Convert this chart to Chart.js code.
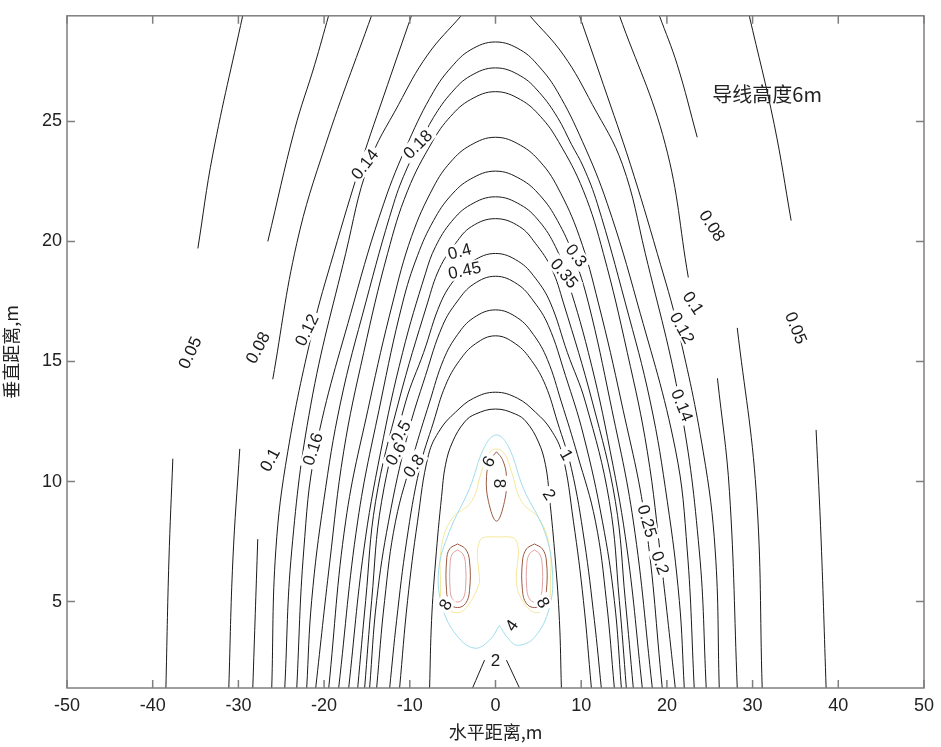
<!DOCTYPE html>
<html>
<head>
<meta charset="utf-8">
<script src="https://cdn.jsdelivr.net/npm/chart.js@4.4.0/dist/chart.umd.min.js"></script>
<style>
  html, body { margin: 0; padding: 0; background: #fff; }
</style>
</head>
<body>
<canvas id="contour" width="941" height="747"></canvas>
<script>
// axis ticks
const xTicks = [-50, -40, -30, -20, -10, 0, 10, 20, 30, 40, 50];
const yTicks = [5, 10, 15, 20, 25];

// contour lines (null = break in the line)
const c005X = [-38.46, -38.11, -37.65, null, -34.73, -32.98, -29.49, null, 29.60, 32.52, 34.50, null, 37.41, 38.00, 38.58];
const c005Y = [1.40, 6.69, 10.95, null, 19.71, 23.64, 29.42, null, 29.42, 24.88, 20.87, null, 12.15, 7.52, 1.40];
const c008X = [-31.12, -30.65, -29.84, null, -26.57, -23.43, -21.10, -19.46, null, 19.11, 21.21, 23.54, null, 28.21, 30.42, 31.12];
const c008Y = [1.40, 6.69, 11.36, null, 20.00, 24.67, 27.36, 29.42, null, 29.42, 27.36, 24.34, null, 16.40, 9.59, 1.40];
const c010X = [-28.32, -27.74, null, -25.99, -23.19, -19.81, -14.45, null, 14.45, 19.81, 22.50, null, 25.90, 27.30, 28.21];
const c010Y = [1.40, 7.60, null, 14.26, 19.92, 24.05, 29.42, null, 29.42, 24.05, 18.50, null, 14.30, 9.59, 1.40];
const c012X = [-26.11, -25.64, -24.24, -21.33, -18.88, -15.73, -12.59, -9.79, null, 9.79, 12.59, 15.73, 18.88, 21.33, 24.24, 25.64, 26.11];
const c012Y = [1.40, 7.11, 11.24, 16.32, 19.50, 23.22, 26.53, 29.42, null, 29.42, 26.53, 23.22, 19.50, 16.32, 11.24, 7.11, 1.40];
const c014X = [-24.59, -23.78, -21.56, -17.48, -14.80, -11.31, -7.93, -3.96, null, 3.96, 7.93, 11.31, 14.80, 17.48, 21.56, 23.78, 24.59];
const c014Y = [1.40, 7.11, 13.18, 19.50, 23.22, 25.70, 27.77, 29.42, null, 29.42, 27.77, 25.70, 23.22, 19.50, 13.18, 7.11, 1.40];
const c016X = [-23.19, -22.38, -20.98, -16.55, -13.05, -10.14, -7.23, -5.13, -2.91, 0, 2.91, 5.13, 7.23, 10.14, 13.05, 16.55, 20.98, 22.38, 23.19];
const c016Y = [1.40, 7.11, 11.36, 17.44, 21.57, 24.17, 26.24, 27.27, 27.98, 28.31, 27.98, 27.27, 26.24, 24.17, 21.57, 17.44, 11.36, 7.11, 1.40];
const c018X = [-22.03, -21.45, -20.05, -18.07, -15.15, -11.89, -10.26, -8.86, -7.23, -5.13, -2.91, 0, 2.91, 5.13, 7.23, 8.86, 10.26, 11.89, 15.15, 18.07, 20.05, 21.45, 22.03];
const c018Y = [1.40, 5.04, 9.17, 13.31, 17.44, 21.57, 23.10, 24.05, 25.17, 26.20, 26.90, 27.23, 26.90, 26.20, 25.17, 24.05, 23.10, 21.57, 17.44, 13.31, 9.17, 5.04, 1.40];
const c020X = [-20.98, -19.35, -17.72, -15.38, -12.59, -10.26, -7.34, -5.24, -2.91, 0, 2.91, 5.24, 7.34, 10.26, 12.59, 15.38, 17.72, 19.35, 20.98];
const c020Y = [1.40, 6.61, 11.24, 15.37, 19.50, 22.11, 24.17, 25.21, 25.91, 26.24, 25.91, 25.21, 24.17, 22.11, 19.50, 15.37, 11.24, 6.61, 1.40];
const c025X = [-19.46, -17.48, -14.69, -12.00, -9.79, -7.23, -5.24, -2.91, 0, 2.91, 5.24, 7.23, 9.79, 12.00, 14.69, 17.48, 19.46];
const c025Y = [1.40, 8.35, 13.31, 17.44, 20.21, 22.27, 23.31, 24.01, 24.34, 24.01, 23.31, 22.27, 20.21, 17.44, 13.31, 8.35, 1.40];
const c030X = [-18.30, -16.08, -13.40, -10.84, -9.09, -7.23, -5.24, -2.91, 0, 2.91, 5.24, 7.23, 9.09, 10.84, 13.40, 16.08, 18.30];
const c030Y = [1.40, 8.35, 13.31, 17.44, 19.42, 20.87, 21.90, 22.60, 22.93, 22.60, 21.90, 20.87, 19.42, 17.44, 13.31, 8.35, 1.40];
const c035X = [-17.13, -15.38, -13.40, -10.84, -8.16, -6.99, -5.13, -2.91, 0, 2.91, 5.13, 6.99, 8.16, 10.84, 13.40, 15.38, 17.13];
const c035Y = [1.40, 7.11, 11.24, 15.37, 18.68, 19.79, 20.83, 21.53, 21.86, 21.53, 20.83, 19.79, 18.68, 15.37, 11.24, 7.11, 1.40];
const c040X = [-16.08, -15.15, -13.99, -11.31, -7.93, -6.53, -4.66, -2.80, 0, 2.80, 4.66, 6.53, 7.93, 11.31, 13.99, 15.15, 16.08];
const c040Y = [1.40, 5.04, 9.17, 13.31, 17.44, 18.88, 19.92, 20.62, 20.95, 20.62, 19.92, 18.88, 17.44, 13.31, 9.17, 5.04, 1.40];
const c045X = [-15.27, -14.45, -13.29, -10.49, -8.39, -6.41, -4.66, -2.68, 0, 2.68, 4.66, 6.41, 8.39, 10.49, 13.29, 14.45, 15.27];
const c045Y = [1.40, 5.04, 9.17, 13.31, 15.37, 17.44, 18.47, 19.17, 19.50, 19.17, 18.47, 17.44, 15.37, 13.31, 9.17, 5.04, 1.40];
const c050X = [-14.69, -13.87, -12.47, -10.26, -8.16, -6.18, -4.43, -2.56, 0, 2.56, 4.43, 6.18, 8.16, 10.26, 12.47, 13.87, 14.69];
const c050Y = [1.40, 5.04, 8.35, 11.94, 14.42, 16.49, 17.52, 18.22, 18.55, 18.22, 17.52, 16.49, 14.42, 11.94, 8.35, 5.04, 1.40];
const c060X = [-13.87, -12.94, -11.66, -9.56, -7.69, -6.06, -4.43, -2.56, 0, 2.56, 4.43, 6.06, 7.69, 9.56, 11.66, 12.94, 13.87];
const c060Y = [1.40, 5.04, 8.35, 11.12, 13.31, 15.08, 16.12, 16.82, 17.15, 16.82, 16.12, 15.08, 13.31, 11.12, 8.35, 5.04, 1.40];
const c080X = [-12.35, -11.54, -10.37, -8.86, -7.23, -5.83, -4.20, -2.33, 0, 2.33, 4.20, 5.83, 7.23, 8.86, 10.37, 11.54, 12.35];
const c080Y = [1.40, 4.21, 7.52, 10.54, 12.48, 14.01, 15.04, 15.74, 16.07, 15.74, 15.04, 14.01, 12.48, 10.54, 7.52, 4.21, 1.40];
const c100X = [-11.19, -10.26, -9.09, -7.81, -6.41, -4.66, -2.56, 0, 2.56, 4.66, 6.41, 7.81, 9.09, 10.26, 11.19];
const c100Y = [1.40, 5.04, 8.35, 11.12, 12.19, 12.89, 13.47, 13.72, 13.47, 12.89, 12.19, 11.12, 8.35, 5.04, 1.40];
const c200X = [-7.69, -7.46, -6.99, -6.29, -5.83, -5.01, -3.61, -2.33, 0, 2.33, 3.61, 5.01, 5.83, 6.29, 6.99, 7.46, 7.69];
const c200Y = [1.40, 4.21, 6.69, 9.38, 10.70, 11.65, 12.48, 12.81, 13.02, 12.81, 12.48, 11.65, 10.70, 9.38, 6.69, 4.21, 1.40];
const c200bX = [-2.68, -1.28, null, 1.28, 2.80];
const c200bY = [1.40, 2.56, null, 2.56, 1.40];

// coloured contours round the conductors
const c400X = [0.47, -0.70, -2.45, -4.55, -6.18, -6.64, -5.36, -3.03, -1.28, 0.12, 1.52, 3.26, 5.71, 6.64, 6.29, 4.55, 2.56, 1.40, 0.47];
const c400Y = [4.01, 3.39, 3.06, 3.60, 4.75, 6.28, 7.93, 9.71, 11.45, 11.94, 11.45, 9.71, 7.93, 6.28, 4.75, 3.51, 3.18, 3.50, 4.01];
const c600X = [-1.86, -1.86, 0.23, 2.45, 2.45, 3.03, 4.55, 6.06, 6.41, 6.29, 5.13, 3.03, 1.86, 1.05, 0.12, -0.82, -1.63, -2.80, -5.13, -6.29, -6.41, -6.06, -4.20, -2.68, -1.86];
const c600Y = [5.79, 7.52, 7.69, 7.52, 5.79, 5.12, 4.55, 4.83, 5.87, 7.31, 8.43, 9.17, 10.41, 11.16, 11.36, 11.16, 10.41, 9.17, 8.43, 7.31, 5.87, 4.83, 4.55, 5.12, 5.79];
const c800LX = [-4.43, -3.50, -3.03, -3.03, -3.50, -4.43, -5.36, -5.71, -5.71, -5.36, -4.43];
const c800RX = [4.55, 5.48, 5.94, 5.94, 5.48, 4.55, 3.61, 3.15, 3.15, 3.61, 4.55];
const c800SY = [7.40, 7.19, 6.69, 5.45, 4.92, 4.75, 4.92, 5.45, 6.69, 7.19, 7.40];
const c800TX = [0.12, 0.82, 1.28, 1.05, 0.12, -0.82, -1.05, -0.58, 0.12];
const c800TY = [11.24, 10.91, 10.21, 9.17, 8.35, 9.17, 10.21, 10.91, 11.24];
const c900LX = [-4.43, -3.80, -3.50, -3.50, -3.80, -4.43, -5.05, -5.30, -5.30, -5.05, -4.43];
const c900RX = [4.55, 5.15, 5.45, 5.45, 5.15, 4.55, 3.95, 3.65, 3.65, 3.95, 4.55];
const c900SY = [7.15, 6.98, 6.55, 5.55, 5.12, 4.98, 5.12, 5.55, 6.55, 6.98, 7.15];

// contour labels
const labelText = ['0.05', '0.08', '0.12', '0.1', '0.16', '0.14', '0.18', '0.4', '0.45', '0.3', '0.35',
  '0.08', '0.1', '0.12', '0.05', '0.14', '0.25', '0.2', '0.5', '0.6', '0.8', '1', '2', '2', '4', '6', '8', '8', '8'];
const labelX = [-35.66, -27.74, -22.03, -26.34, -21.33, -15.27, -9.09, -4.20, -3.61, 9.44, 8.04,
  25.29, 23.08, 21.79, 35.08, 21.79, 17.72, 19.23, -11.07, -11.66, -9.55, 8.28, 6.29, 0, 1.86, -0.82, 0.47, -5.83, 5.59];
const labelY = [15.37, 15.58, 16.32, 10.91, 11.36, 23.22, 24.05, 19.59, 18.80, 19.42, 18.68,
  20.66, 17.44, 16.40, 16.40, 13.18, 8.35, 6.61, 12.07, 11.16, 10.66, 11.12, 9.46, 2.56, 4.01, 10.83, 9.92, 4.88, 4.96];
const labelAngle = [-65, -62, -64, -62, -72, -52, -45, -15, -12, 52, 50,
  57, 56, 61, 68, 68, 74, 70, -60, -60, -56, 60, 58, 0, -55, -60, 90, -60, 60];

const noteText = '导线高度6m';
const noteX = 25.3;
const noteY = 26.12;

const lineSets = [
  [c005X, c005Y, '#1a1a1a'], [c008X, c008Y, '#1a1a1a'], [c010X, c010Y, '#1a1a1a'],
  [c012X, c012Y, '#1a1a1a'], [c014X, c014Y, '#1a1a1a'], [c016X, c016Y, '#1a1a1a'],
  [c018X, c018Y, '#1a1a1a'], [c020X, c020Y, '#1a1a1a'], [c025X, c025Y, '#1a1a1a'],
  [c030X, c030Y, '#1a1a1a'], [c035X, c035Y, '#1a1a1a'], [c040X, c040Y, '#1a1a1a'],
  [c045X, c045Y, '#1a1a1a'], [c050X, c050Y, '#1a1a1a'], [c060X, c060Y, '#1a1a1a'],
  [c080X, c080Y, '#1a1a1a'], [c100X, c100Y, '#1a1a1a'], [c200X, c200Y, '#1a1a1a'],
  [c200bX, c200bY, '#1a1a1a'],
  [c400X, c400Y, '#9edcec'], [c600X, c600Y, '#f4e79a'],
  [c800LX, c800SY, '#9a5a42'], [c800RX, c800SY, '#9a5a42'], [c800TX, c800TY, '#9a5a42'],
  [c900LX, c900SY, '#e0a0a0'], [c900RX, c900SY, '#e0a0a0']
];

function toPoints(xs, ys) {
  return xs.map((v, i) => ({ x: v, y: ys[i] }));
}

const datasets = lineSets.map(([xs, ys, col]) => ({
  data: toPoints(xs, ys),
  showLine: true,
  borderColor: col,
  borderWidth: 1,
  pointRadius: 0,
  tension: 0.4,
  spanGaps: false,
  fill: false
}));

const tickFont = { family: 'Liberation Sans, Arial, sans-serif', size: 18 };
const cjkFont = { family: 'Noto Sans CJK SC, sans-serif', size: 18 };

// white-boxed rotated contour labels, MATLAB clabel style
const contourLabels = {
  id: 'contourLabels',
  afterDatasetsDraw(chart) {
    const { ctx, scales: { x, y } } = chart;
    ctx.save();
    ctx.font = '17px "Liberation Sans", Arial, sans-serif';
    ctx.textAlign = 'center';
    ctx.textBaseline = 'middle';
    labelText.forEach((t, i) => {
      const px = x.getPixelForValue(labelX[i]);
      const py = y.getPixelForValue(labelY[i]);
      const w = ctx.measureText(t).width;
      ctx.save();
      ctx.translate(px, py);
      ctx.rotate(labelAngle[i] * Math.PI / 180);
      ctx.fillStyle = '#fff';
      ctx.fillRect(-w / 2 - 3, -8, w + 6, 16);
      ctx.fillStyle = '#1a1a1a';
      ctx.fillText(t, 0, 1);
      ctx.restore();
    });
    ctx.font = '20px "Noto Sans CJK SC", sans-serif';
    ctx.textAlign = 'left';
    ctx.fillStyle = '#222';
    ctx.fillText(noteText, x.getPixelForValue(noteX), y.getPixelForValue(noteY));
    ctx.restore();
  }
};

// grey box with inward ticks on all four sides
const frameInk = {
  id: 'frameInk',
  afterDraw(chart) {
    const { ctx, chartArea: a, scales: { x, y } } = chart;
    ctx.save();
    ctx.strokeStyle = '#7f7f7f';
    ctx.lineWidth = 1.5;
    ctx.strokeRect(a.left, a.top, a.right - a.left, a.bottom - a.top);
    ctx.beginPath();
    xTicks.forEach(v => {
      const p = x.getPixelForValue(v);
      ctx.moveTo(p, a.bottom); ctx.lineTo(p, a.bottom - 8);
      ctx.moveTo(p, a.top); ctx.lineTo(p, a.top + 8);
    });
    yTicks.forEach(v => {
      const p = y.getPixelForValue(v);
      ctx.moveTo(a.left, p); ctx.lineTo(a.left + 8, p);
      ctx.moveTo(a.right, p); ctx.lineTo(a.right - 8, p);
    });
    ctx.stroke();
    ctx.restore();
  }
};

new Chart(document.getElementById('contour').getContext('2d'), {
  type: 'scatter',
  data: { datasets },
  options: {
    responsive: false,
    animation: false,
    devicePixelRatio: 1,
    layout: { padding: { top: 10, right: 16, left: 0, bottom: 0 } },
    plugins: { legend: { display: false }, tooltip: { enabled: false } },
    scales: {
      x: {
        type: 'linear',
        min: -50, max: 50,
        grid: { display: false, drawTicks: false },
        border: { display: false },
        afterBuildTicks: s => { s.ticks = xTicks.map(v => ({ value: v })); },
        afterFit: s => { s.height = 59; },
        ticks: { font: tickFont, color: '#222', padding: 7, maxRotation: 0 },
        title: { display: true, text: '水平距离,m', font: cjkFont, color: '#222', padding: { top: 0, bottom: 4 } }
      },
      y: {
        type: 'linear',
        min: 1.4, max: 29.4,
        grid: { display: false, drawTicks: false },
        border: { display: false },
        afterBuildTicks: s => { s.ticks = yTicks.map(v => ({ value: v })); },
        afterFit: s => { s.width = 67; },
        ticks: { font: tickFont, color: '#222', padding: 5 },
        title: { display: true, text: '垂直距离,m', font: cjkFont, color: '#222', padding: { top: 0, bottom: 6 } }
      }
    }
  },
  plugins: [contourLabels, frameInk]
});
</script>
</body>
</html>
